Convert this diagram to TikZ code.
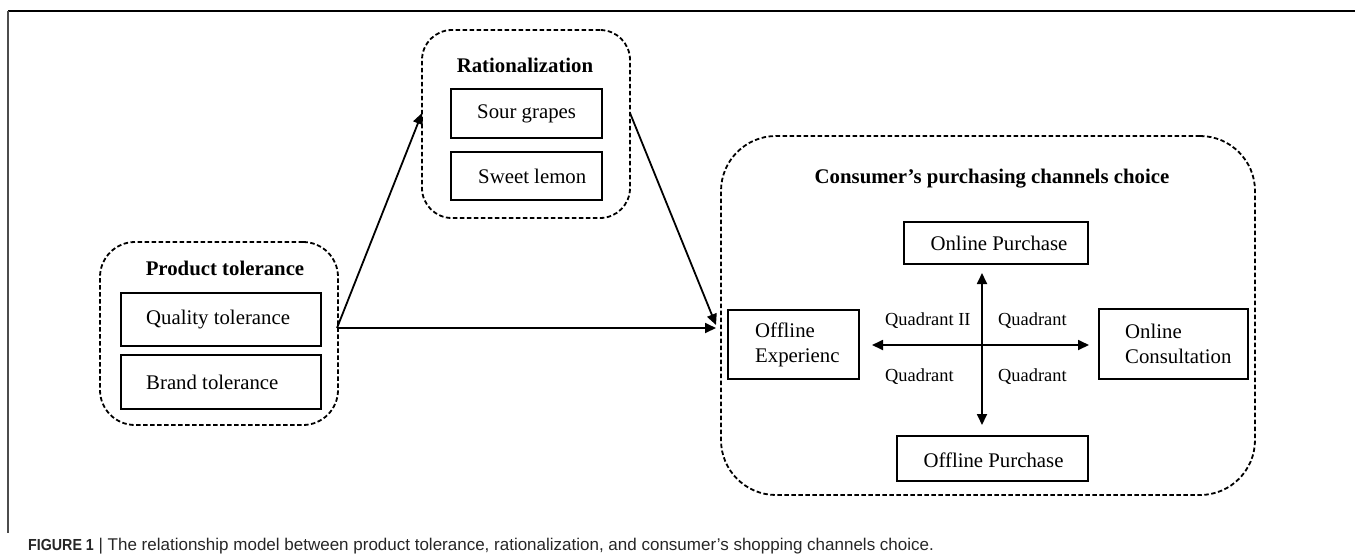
\documentclass[tikz,border=0pt]{standalone}
\usepackage{fontspec}
\setmainfont{Liberation Serif}
\newfontfamily\capfont{Liberation Sans}
\usetikzlibrary{arrows.meta}
\tikzset{
  dashbox/.style={draw, line width=1.8pt, dash pattern=on 4.5pt off 2.5pt, rounded corners=#1, inner sep=0pt},
  solidbox/.style={draw, line width=2pt, inner sep=0pt},
  lbl/.style={inner sep=0pt, font=\fontsize{20.8}{25}\selectfont, align=left},
  ttl/.style={inner sep=0pt, font=\fontsize{20.8}{25}\selectfont\bfseries},
  qlbl/.style={inner sep=0pt, font=\fontsize{18.4}{22}\selectfont, anchor=west},
  conn/.style={line width=1.8pt, -{Triangle[length=11pt,width=10pt]}},
  dconn/.style={line width=1.8pt, {Triangle[length=11pt,width=10pt]}-{Triangle[length=11pt,width=10pt]}},
}
\begin{document}
\begin{tikzpicture}[x=1pt,y=-1pt]
\useasboundingbox (0,0) rectangle (1355,558);
% frame
\draw[line width=2pt] (8,10.5) -- (1355,10.5);
\draw[line width=1.4pt, black!70] (8,10.5) -- (8,533);

% product tolerance
\node[dashbox=35pt, minimum width=238pt, minimum height=183pt] (pt) at (219,333.5) {};
\node[ttl] (pttitle) at (225,268) {Product tolerance};
\node[solidbox, minimum width=200pt, minimum height=53pt] (qb) at (221,319.5) {};
\node[lbl, anchor=west] (qt) at (146,320) {Quality tolerance};
\node[solidbox, minimum width=200pt, minimum height=54pt] (bb) at (221,382) {};
\node[lbl, anchor=west] (bt) at (146,382) {Brand tolerance};

% rationalization
\node[dashbox=30pt, minimum width=208pt, minimum height=188pt] (ra) at (526,124) {};
\node[ttl] (ratitle) at (525,65) {Rationalization};
\node[solidbox, minimum width=151pt, minimum height=49pt] (sb) at (526.5,113.5) {};
\node[lbl, anchor=west] (st) at (477,114) {Sour grapes};
\node[solidbox, minimum width=151pt, minimum height=48pt] (lb) at (526.5,176) {};
\node[lbl, anchor=west] (lt) at (478,176) {Sweet lemon};

% consumer
\node[dashbox=55pt, minimum width=534pt, minimum height=359pt] (cc) at (988,315.5) {};
\node[ttl] (cctitle) at (992,179) {Consumer’s purchasing channels choice};
\node[solidbox, minimum width=184pt, minimum height=42pt] (onp) at (996,243) {};
\node[lbl] (onpt) at (999,243) {Online Purchase};
\node[solidbox, minimum width=131pt, minimum height=69pt] (ofe) at (793.5,344.5) {};
\node[lbl, anchor=west] (ofet) at (755,345) {Offline\\Experienc};
\node[solidbox, minimum width=149pt, minimum height=70pt] (onc) at (1173.5,344) {};
\node[lbl, anchor=west] (onct) at (1125,344) {Online\\Consultation};
\node[solidbox, minimum width=191pt, minimum height=45pt] (ofp) at (992.5,458.5) {};
\node[lbl] (ofpt) at (993.5,460) {Offline Purchase};

\coordinate (vt) at (982,273);
\coordinate (vb) at (982,425);
\coordinate (hl) at (872,345);
\coordinate (hr) at (1089,345);
\draw[dconn] (vb) -- (vt);
\draw[dconn] (hl) -- (hr);
\node[qlbl] (q2) at (885,321) {Quadrant II};
\node[qlbl] (q1) at (998,321) {Quadrant};
\node[qlbl] (q3) at (885,377) {Quadrant};
\node[qlbl] (q4) at (998,377) {Quadrant};

% connectors
\coordinate (src) at (337,328);
\coordinate (ratin) at (422,113);
\coordinate (ratout) at (630,113);
\coordinate (ccin1) at (716,325);
\coordinate (ccin2) at (716,328);
\draw[conn] (src) -- (ratin);
\draw[conn] (ratout) -- (ccin1);
\draw[conn] (src) -- (ccin2);

% caption
\node[inner sep=0pt, anchor=base west, font=\capfont\fontsize{17}{20}\selectfont, text=black!85] (cap) at (28,550)
  {\scalebox{0.89}[1]{\fontsize{16}{20}\selectfont\bfseries FIGURE 1} | The relationship model between product tolerance, rationalization, and consumer’s shopping channels choice.};
\end{tikzpicture}
\end{document}
